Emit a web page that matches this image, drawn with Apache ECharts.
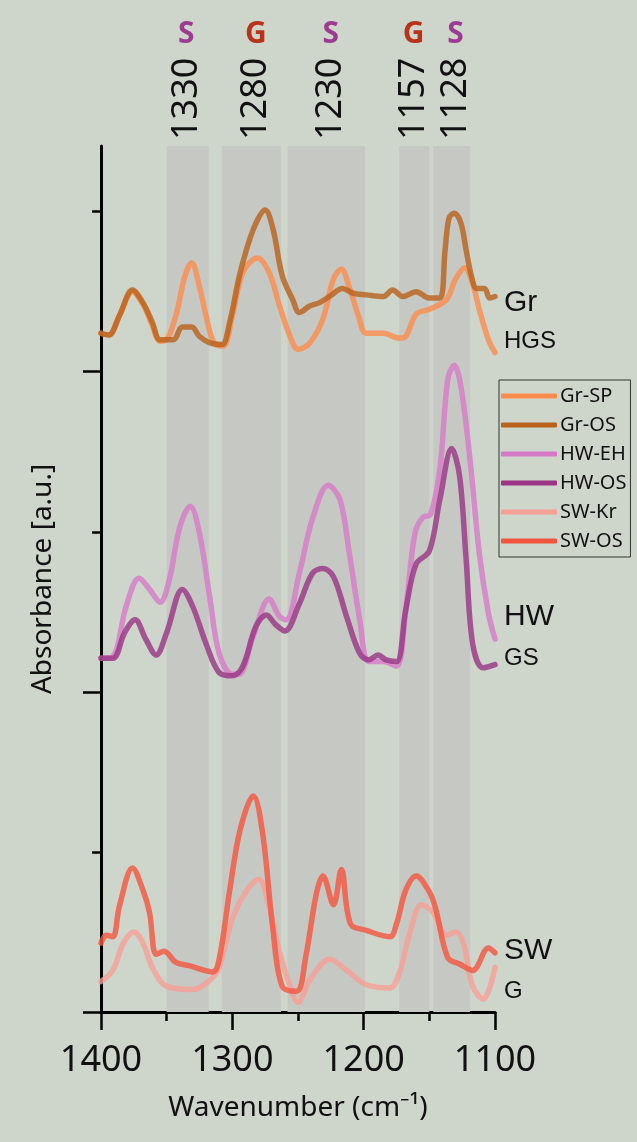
<!DOCTYPE html>
<html>
<head>
<meta charset="utf-8">
<script src="https://cdn.jsdelivr.net/npm/echarts@6/dist/echarts.min.js"></script>
<style>
  html, body { margin: 0; padding: 0; background: #ced5cb; }
  #chart { width: 637px; height: 1142px; }
</style>
</head>
<body>
<div id="chart"></div>
<script>
// spectra as [wavenumber, absorbance (offset, a.u.)]
var grSP = [[1400,4.24],[1394,4.23],[1386,4.35],[1376,4.50],[1368,4.42],[1361,4.29],[1355,4.19],[1350,4.20],[1343,4.35],[1336,4.60],[1331,4.68],[1325,4.53],[1320,4.35],[1314,4.18],[1307,4.16],[1300,4.35],[1292,4.62],[1281,4.71],[1272,4.62],[1264,4.41],[1256,4.22],[1250,4.14],[1241,4.18],[1231,4.33],[1223,4.58],[1217,4.64],[1211,4.53],[1204,4.35],[1198,4.24],[1185,4.24],[1173,4.21],[1168,4.22],[1160,4.36],[1150,4.39],[1137,4.45],[1130,4.58],[1123,4.65],[1117,4.55],[1112,4.39],[1105,4.20],[1100,4.12]];
var grOS = [[1400,4.24],[1394,4.23],[1386,4.35],[1376,4.51],[1368,4.43],[1361,4.31],[1355,4.20],[1345,4.20],[1338,4.28],[1331,4.28],[1325,4.22],[1317,4.18],[1308,4.17],[1302,4.31],[1294,4.62],[1284,4.89],[1275,5.01],[1269,4.89],[1262,4.60],[1254,4.45],[1249,4.37],[1241,4.41],[1234,4.43],[1226,4.47],[1216,4.52],[1208,4.49],[1198,4.48],[1185,4.47],[1178,4.51],[1170,4.47],[1160,4.50],[1150,4.46],[1142,4.46],[1138,4.76],[1135,4.96],[1131,4.99],[1126,4.93],[1122,4.76],[1118,4.60],[1114,4.52],[1108,4.52],[1104,4.46],[1100,4.47]];
var hwEH = [[1400,2.21],[1391,2.22],[1381,2.53],[1371,2.71],[1363,2.64],[1355,2.56],[1348,2.70],[1340,3.03],[1332,3.16],[1325,2.99],[1317,2.58],[1310,2.24],[1300,2.11],[1295,2.11],[1284,2.35],[1272,2.58],[1264,2.47],[1259,2.45],[1249,2.74],[1239,3.08],[1227,3.29],[1218,3.20],[1211,2.87],[1203,2.45],[1196,2.19],[1185,2.19],[1175,2.16],[1168,2.51],[1161,2.99],[1155,3.09],[1149,3.11],[1142,3.39],[1136,3.95],[1131,4.04],[1126,3.91],[1119,3.45],[1112,2.87],[1105,2.49],[1100,2.33]];
var hwOS = [[1400,2.21],[1391,2.21],[1382,2.37],[1374,2.45],[1366,2.33],[1358,2.23],[1350,2.37],[1338,2.64],[1330,2.53],[1320,2.30],[1310,2.12],[1300,2.10],[1292,2.16],[1282,2.41],[1274,2.48],[1267,2.42],[1260,2.38],[1249,2.55],[1239,2.74],[1231,2.77],[1223,2.72],[1213,2.47],[1203,2.24],[1196,2.20],[1189,2.23],[1183,2.20],[1175,2.19],[1168,2.51],[1160,2.80],[1150,2.88],[1142,3.20],[1133,3.52],[1127,3.35],[1122,2.83],[1117,2.30],[1109,2.15],[1100,2.17]];
var swKr = [[1400,0.19],[1391,0.26],[1383,0.43],[1375,0.50],[1368,0.43],[1361,0.28],[1350,0.16],[1330,0.14],[1317,0.20],[1310,0.28],[1300,0.58],[1289,0.76],[1280,0.83],[1272,0.66],[1264,0.37],[1256,0.16],[1250,0.06],[1241,0.20],[1226,0.33],[1213,0.26],[1198,0.17],[1180,0.15],[1173,0.24],[1165,0.49],[1156,0.67],[1147,0.62],[1137,0.48],[1130,0.50],[1124,0.43],[1117,0.16],[1109,0.08],[1100,0.28]];
var swOS = [[1400,0.43],[1396,0.48],[1391,0.47],[1386,0.66],[1376,0.90],[1368,0.76],[1363,0.62],[1358,0.36],[1352,0.38],[1343,0.31],[1333,0.29],[1315,0.25],[1310,0.33],[1302,0.76],[1294,1.14],[1284,1.35],[1277,1.12],[1269,0.51],[1262,0.16],[1251,0.13],[1244,0.35],[1236,0.74],[1231,0.85],[1223,0.67],[1217,0.89],[1210,0.55],[1198,0.51],[1180,0.47],[1175,0.55],[1168,0.76],[1160,0.85],[1150,0.75],[1145,0.64],[1136,0.34],[1127,0.30],[1117,0.26],[1105,0.40],[1100,0.37]];

var seriesNames = ['Gr-SP', 'Gr-OS', 'HW-EH', 'HW-OS', 'SW-Kr', 'SW-OS'];
var seriesData = [grSP, grOS, hwEH, hwOS, swKr, swOS];
var seriesColors = ['#fb8c4e', '#b8621c', '#d67ac8', '#993584', '#f5a096', '#f2553e'];

// shaded bands and their labels
var bandRanges = [[1350, 1318], [1308, 1263], [1258, 1199], [1173, 1150], [1147, 1119]];
var bandLabels = ['1330', '1280', '1230', '1157', '1128'];
var bandLabelPos = [1335, 1282, 1225, 1162, 1130];
var bandTypes = ['S', 'G', 'S', 'G', 'S'];
var typeColors = { S: '#9d3b92', G: '#b9331a' };

// sample group labels at the right end
var groupLabels = [
  { text: 'Gr', v: 4.43, size: 30 },
  { text: 'HGS', v: 4.19, size: 24 },
  { text: 'HW', v: 2.47, size: 30 },
  { text: 'GS', v: 2.21, size: 24 },
  { text: 'SW', v: 0.38, size: 30 },
  { text: 'G', v: 0.13, size: 24 }
];

var xTicks = [1100, 1400];
var yMax = 5.41;

function grafico() {
  var chart = echarts.init(document.getElementById('chart'));

  var series = [{
    name: 'bands',
    type: 'line',
    data: [],
    z: 1,
    silent: true,
    markArea: {
      silent: true,
      itemStyle: { color: '#c6c9c3' },
      data: bandRanges.map(function (r) { return [{ xAxis: r[0] }, { xAxis: r[1] }]; })
    }
  }];
  seriesData.forEach(function (d, i) {
    series.push({
      name: seriesNames[i],
      type: 'line',
      data: d,
      z: 2,
      color: seriesColors[i],
      symbol: 'none',
      smooth: 0.35,
      lineStyle: { width: 5.5, opacity: 0.8, cap: 'round', join: 'round' }
    });
  });

  var option = {
    backgroundColor: '#ced5cb',
    animation: false,
    grid: { left: 101, right: 142, top: 146, bottom: 130 },
    legend: {
      data: seriesNames,
      orient: 'vertical',
      left: 499,
      top: 380,
      icon: 'roundRect',
      itemWidth: 56,
      itemHeight: 5,
      itemGap: 9,
      padding: [6, 4, 6, 2],
      borderColor: '#333',
      borderWidth: 1,
      textStyle: { fontFamily: 'Noto Sans', fontSize: 20, color: '#111', padding: [0, 0, 0, -2] }
    },
    xAxis: {
      type: 'value',
      inverse: true,
      min: xTicks[0],
      max: xTicks[1],
      interval: 100,
      name: 'Wavenumber (cm\u207B\u00B9)',
      nameLocation: 'middle',
      nameGap: 82,
      nameTextStyle: { fontFamily: 'Noto Sans', fontSize: 28, color: '#111' },
      axisLine: { lineStyle: { color: '#000', width: 3 } },
      axisTick: { length: 18, lineStyle: { color: '#000', width: 2.5 } },
      minorTick: { show: true, splitNumber: 2, length: 9, lineStyle: { color: '#000', width: 2.5 } },
      axisLabel: {
        fontFamily: 'Noto Sans', fontSize: 36, color: '#111', margin: 31,
        formatter: function (v) { return String(v); }
      },
      splitLine: { show: false }
    },
    yAxis: [{
      type: 'value',
      min: 0,
      max: yMax,
      position: 'left',
      name: 'Absorbance [a.u.]',
      nameLocation: 'middle',
      nameGap: 44,
      nameTextStyle: { fontFamily: 'Noto Sans', fontSize: 28, color: '#111' },
      axisLine: { show: true, lineStyle: { color: '#000', width: 3 } },
      axisTick: { show: true, length: 18, customValues: [0, 2, 4], lineStyle: { color: '#000', width: 2.5 } },
      axisLabel: { show: false },
      splitLine: { show: false }
    }, {
      type: 'value',
      min: 0,
      max: yMax,
      position: 'left',
      offset: 0,
      axisLine: { show: false },
      axisTick: { show: true, length: 9, customValues: [1, 3, 5], lineStyle: { color: '#000', width: 2.5 } },
      axisLabel: { show: false },
      splitLine: { show: false }
    }],
    series: series
  };
  chart.setOption(option);

  var g = [];
  bandLabelPos.forEach(function (wn, i) {
    var px = chart.convertToPixel({ gridIndex: 0 }, [wn, 0])[0];
    g.push({
      type: 'text', x: px, y: 140, rotation: Math.PI / 2,
      style: { text: bandLabels[i], fill: '#111', font: '36px "Noto Sans"', align: 'left', verticalAlign: 'middle' }
    });
    g.push({
      type: 'text', x: px, y: 34,
      style: { text: bandTypes[i], fill: typeColors[bandTypes[i]], font: 'bold 30px "Noto Sans"', align: 'center', verticalAlign: 'middle' }
    });
  });
  groupLabels.forEach(function (l) {
    var p = chart.convertToPixel({ gridIndex: 0 }, [1100, l.v]);
    g.push({
      type: 'text', x: p[0] + 9, y: p[1],
      style: { text: l.text, fill: '#111', font: l.size + 'px "Liberation Sans"', align: 'left', verticalAlign: 'middle' }
    });
  });
  chart.setOption({ graphic: g });
}

grafico();
</script>
</body>
</html>
